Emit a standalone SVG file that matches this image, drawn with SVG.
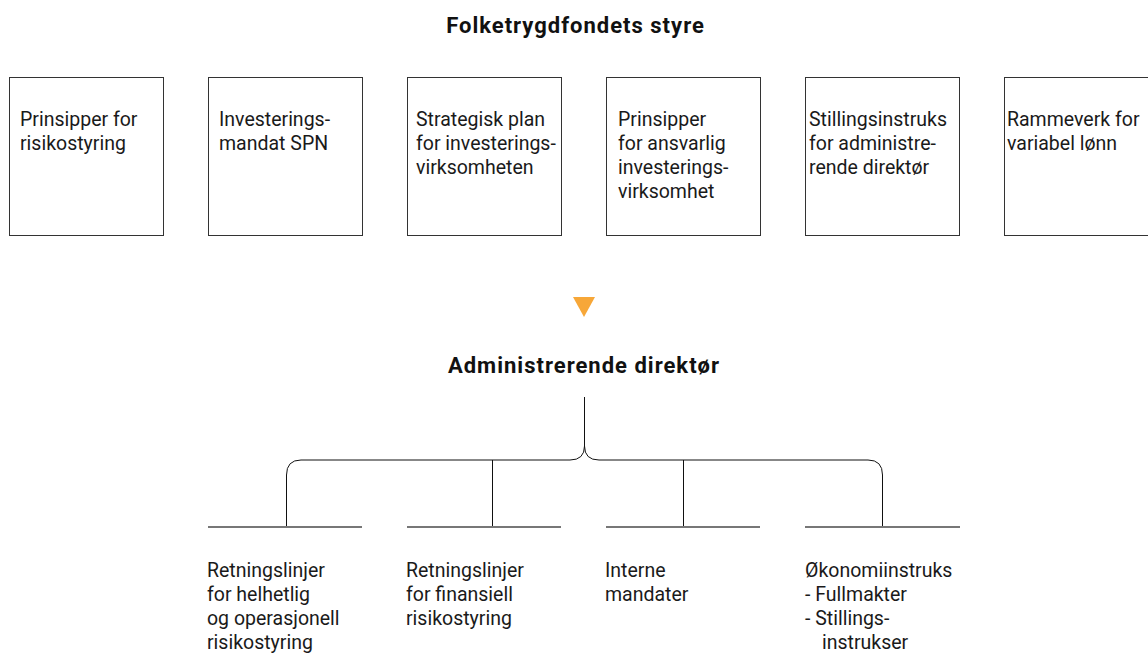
<svg xmlns="http://www.w3.org/2000/svg" width="1148" height="654" viewBox="0 0 1148 654">
<style>
.box{fill:#fff;stroke:#333;stroke-width:1}
.t{font-family:Roboto,"Liberation Sans",sans-serif;font-size:19.5px;fill:#1a1a1a}
.h{font-family:Roboto,"Liberation Sans",sans-serif;font-size:22px;font-weight:bold;letter-spacing:1px;fill:#111;text-anchor:middle}
.conn{fill:none;stroke:#111;stroke-width:1}
.base{stroke:#777;stroke-width:2}
</style>
<rect width="1148" height="654" fill="#fff"/>
<g id="title-board"><text class="h" x="575.5" y="33">Folketrygdfondets styre</text></g>
<g id="box1"><rect class="box" x="9.5" y="77.5" width="154" height="158"/>
<text class="t" x="20" y="126">Prinsipper for</text><text class="t" x="20" y="150">risikostyring</text></g>
<g id="box2"><rect class="box" x="208.5" y="77.5" width="154" height="158"/>
<text class="t" x="219" y="126">Investerings-</text><text class="t" x="219" y="150">mandat SPN</text></g>
<g id="box3"><rect class="box" x="407.5" y="77.5" width="154" height="158"/>
<text class="t" x="416" y="126">Strategisk plan</text><text class="t" x="416" y="150">for investerings-</text><text class="t" x="416" y="174">virksomheten</text></g>
<g id="box4"><rect class="box" x="606.5" y="77.5" width="154" height="158"/>
<text class="t" x="618" y="126">Prinsipper</text><text class="t" x="618" y="150">for ansvarlig</text><text class="t" x="618" y="174">investerings-</text><text class="t" x="618" y="198">virksomhet</text></g>
<g id="box5"><rect class="box" x="805.5" y="77.5" width="154" height="158"/>
<text class="t" x="809" y="126">Stillingsinstruks</text><text class="t" x="809" y="150">for administre-</text><text class="t" x="809" y="174">rende direktør</text></g>
<g id="box6"><rect class="box" x="1004.5" y="77.5" width="154" height="158"/>
<text class="t" x="1007" y="126">Rammeverk for</text><text class="t" x="1007" y="150">variabel lønn</text></g>
<g id="arrow"><polygon points="573,297 595,297 584,317" fill="#F7A738"/></g>
<g id="title-ceo"><text class="h" x="584" y="373">Administrerende direktør</text></g>
<g id="connectors">
<path class="conn" d="M584.5,397 V446 Q584.5,460 570,460 H301 Q286.5,460 286.5,475 V526"/>
<path class="conn" d="M584.5,446 Q584.5,460 599,460 H868 Q882.5,460 882.5,475 V526"/>
<path class="conn" d="M492.5,460 V526 M683.5,460 V526"/>
</g>
<g id="bases">
<line class="base" x1="208" y1="527" x2="362" y2="527"/>
<line class="base" x1="407" y1="527" x2="561" y2="527"/>
<line class="base" x1="606" y1="527" x2="760" y2="527"/>
<line class="base" x1="805" y1="527" x2="960" y2="527"/>
</g>
<g id="item1"><text class="t" x="207" y="577">Retningslinjer</text><text class="t" x="207" y="601">for helhetlig</text><text class="t" x="207" y="625">og operasjonell</text><text class="t" x="207" y="649">risikostyring</text></g>
<g id="item2"><text class="t" x="406" y="577">Retningslinjer</text><text class="t" x="406" y="601">for finansiell</text><text class="t" x="406" y="625">risikostyring</text></g>
<g id="item3"><text class="t" x="605" y="577">Interne</text><text class="t" x="605" y="601">mandater</text></g>
<g id="item4"><text class="t" x="805" y="577">Økonomiinstruks</text><text class="t" x="805" y="601">- Fullmakter</text><text class="t" x="805" y="625">- Stillings-</text><text class="t" x="822" y="649">instrukser</text></g>
</svg>
